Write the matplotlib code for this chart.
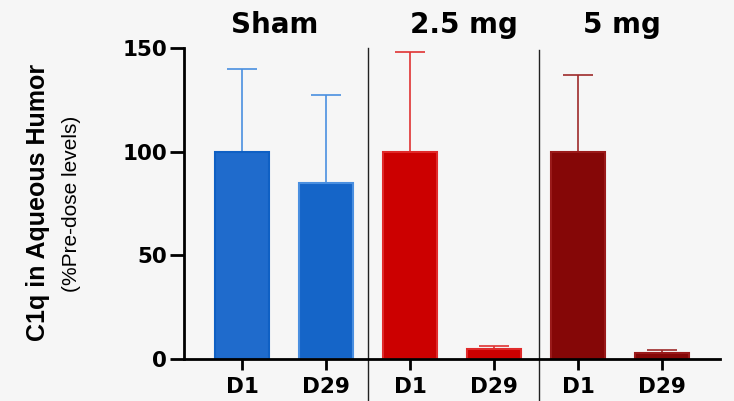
import numpy as np
import matplotlib
matplotlib.use('Agg')
import matplotlib.pyplot as plt
from matplotlib.transforms import blended_transform_factory

# data
groups = ['Sham', '2.5 mg', '5 mg']
tick_labels = ['D1', 'D29', 'D1', 'D29', 'D1', 'D29']
means = [100, 85, 100, 5, 100, 2.7]
errors = [40, 42.5, 48, 1.4, 37, 1.6]

fill_colors = ['#1f6bcc', '#1565c8', '#cc0000', '#cc0000', '#850707', '#850707']
edge_colors = ['#0f60c4', '#4a8fe0', '#e02a2a', '#e02a2a', '#9a1a1a', '#9a1a1a']
err_colors = ['#4a8fe0', '#4a8fe0', '#e03333', '#e03333', '#9e2a2a', '#9e2a2a']

bg = '#f6f6f6'
fig = plt.figure(figsize=(7.34, 4.01), dpi=100, facecolor=bg)
ax = fig.add_axes([0.2507, 0.1047, 0.7302, 0.7756], facecolor=bg)

x = np.arange(len(means))
for i in range(len(means)):
    ax.errorbar(x[i], means[i], yerr=[[0], [errors[i]]], color=err_colors[i],
                elinewidth=1.2, capsize=11, capthick=1.2, zorder=1)
    ax.bar(x[i], means[i], width=0.64, color=fill_colors[i],
           edgecolor=edge_colors[i], linewidth=1.5, zorder=2)

ax.set_xlim(-0.69, 5.69)
ax.set_ylim(0, 150)
ax.set_yticks([0, 50, 100, 150])
ax.set_xticks(x)
ax.set_xticklabels(tick_labels)

tick_font = 'DejaVu Sans'
for lab in ax.get_xticklabels() + ax.get_yticklabels():
    lab.set_fontfamily(tick_font)
    lab.set_fontweight('bold')
    lab.set_fontsize(15.5)

ax.spines['top'].set_visible(False)
ax.spines['right'].set_visible(False)
for s in ['left', 'bottom']:
    ax.spines[s].set_linewidth(2)
ax.tick_params(axis='y', length=10, width=2, pad=2)
ax.tick_params(axis='x', length=8, width=2, pad=5)

# group dividers
ax.axvline(1.5, ymin=-0.2, ymax=1.0, color='#222222', lw=1, clip_on=False)
ax.axvline(3.53, ymin=-0.2, ymax=0.995, color='#222222', lw=1, clip_on=False)

trans = blended_transform_factory(ax.transData, ax.transAxes)
for g, gx in zip(groups, [0.39, 2.64, 4.52]):
    ax.text(gx, 1.074, g, transform=trans, ha='center', va='center',
            fontsize=20, fontweight='bold', fontfamily=tick_font)

fig.text(0.052, 0.496, 'C1q in Aqueous Humor', rotation=90, ha='center',
         va='center', fontsize=18, fontweight='bold', fontfamily='Liberation Sans')
fig.text(0.098, 0.491, '(%Pre-dose levels)', rotation=90, ha='center',
         va='center', fontsize=15, fontfamily='Liberation Sans')

fig.savefig('out.png', dpi=100, facecolor=bg)
